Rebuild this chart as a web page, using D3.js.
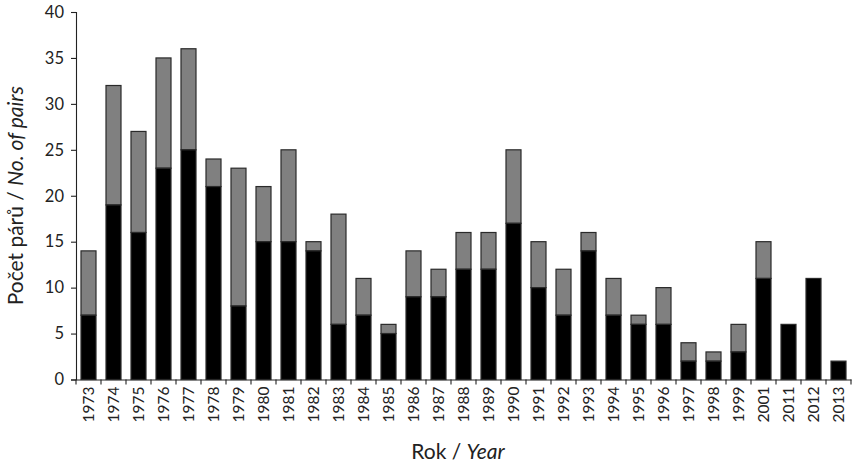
<!DOCTYPE html>
<html><head><meta charset="utf-8">
<script src="https://cdn.jsdelivr.net/npm/d3@7"></script>
<style>body{margin:0;background:#fff}svg{display:block}</style>
</head><body>
<script>
const years = ["1973","1974","1975","1976","1977","1978","1979","1980","1981","1982","1983","1984","1985","1986","1987","1988","1989","1990","1991","1992","1993","1994","1995","1996","1997","1998","1999","2001","2011","2012","2013"];
const blackVals = [7,19,16,23,25,21,8,15,15,14,6,7,5,9,9,12,12,17,10,7,14,7,6,6,2,2,3,11,6,11,2];
const grayVals  = [7,13,11,12,11,3,15,6,10,1,12,4,1,5,3,4,4,8,5,5,2,4,1,4,2,1,3,4,0,0,0];
const yTicks = [0,5,10,15,20,25,30,35,40];

const W = 855, H = 464;
const m = {left: 76, right: 4, top: 12, bottom: 84.5};
const svg = d3.select("body").append("svg").attr("width", W).attr("height", H);
const font = "Lato, 'Open Sans', sans-serif";

const x = d3.scaleBand().domain(years).range([m.left, W - m.right]).paddingInner(0.4).paddingOuter(0.2);
const y = d3.scaleLinear().domain([0, 40]).range([H - m.bottom, m.top]);

const data = years.map((yr, i) => ({yr, b: blackVals[i], g: grayVals[i]}));
const g = svg.append("g");
g.selectAll("rect.gray").data(data.filter(d => d.g > 0)).join("rect")
  .attr("x", d => x(d.yr)).attr("width", x.bandwidth())
  .attr("y", d => y(d.b + d.g)).attr("height", d => y(d.b) - y(d.b + d.g))
  .attr("fill", "#808080").attr("stroke", "#2a2a2a").attr("stroke-width", 1.2);
g.selectAll("rect.black").data(data).join("rect")
  .attr("x", d => x(d.yr)).attr("width", x.bandwidth())
  .attr("y", d => y(d.b)).attr("height", d => y(0) - y(d.b))
  .attr("fill", "#000").attr("stroke", "#2a2a2a").attr("stroke-width", 1.2);

// y axis
const ya = svg.append("g").attr("transform", `translate(${m.left},0)`)
  .call(d3.axisLeft(y).tickValues(yTicks).tickSize(5).tickPadding(7));
ya.selectAll("text").attr("font-family", font).attr("font-size", 16.5).attr("fill", "#222");
ya.selectAll("line,path").attr("stroke", "#222").attr("stroke-width", 1.1);

// x axis
const xa = svg.append("g").attr("transform", `translate(0,${y(0)})`)
  .call(d3.axisBottom(x).tickSize(0).tickPadding(0));
xa.select("path").attr("stroke", "#222").attr("stroke-width", 1.1);
xa.selectAll("text")
  .attr("font-family", font).attr("font-size", 15.5).attr("fill", "#222")
  .attr("transform", "rotate(-90)").attr("text-anchor", "end")
  .attr("x", -7).attr("y", 0).attr("dy", "0.35em");
// boundary ticks
const bounds = years.map(d => x(d) - x.step() * x.paddingInner() / 2).concat([W - m.right]);
xa.selectAll("line.bt").data(bounds).join("line")
  .attr("x1", d => d).attr("x2", d => d).attr("y1", 0).attr("y2", 5)
  .attr("stroke", "#222").attr("stroke-width", 1.1);

// titles
const yt = svg.append("text").attr("transform", `translate(23,${(m.top + y(0)) / 2}) rotate(-90)`)
  .attr("text-anchor", "middle").attr("font-family", font).attr("font-size", 21).attr("fill", "#222");
yt.append("tspan").text("Počet párů / ");
yt.append("tspan").attr("font-style", "italic").text("No. of pairs");

const xt = svg.append("text").attr("x", 458).attr("y", 459)
  .attr("text-anchor", "middle").attr("font-family", font).attr("font-size", 21).attr("fill", "#222");
xt.append("tspan").text("Rok / ");
xt.append("tspan").attr("font-style", "italic").text("Year");
</script>
</body></html>
